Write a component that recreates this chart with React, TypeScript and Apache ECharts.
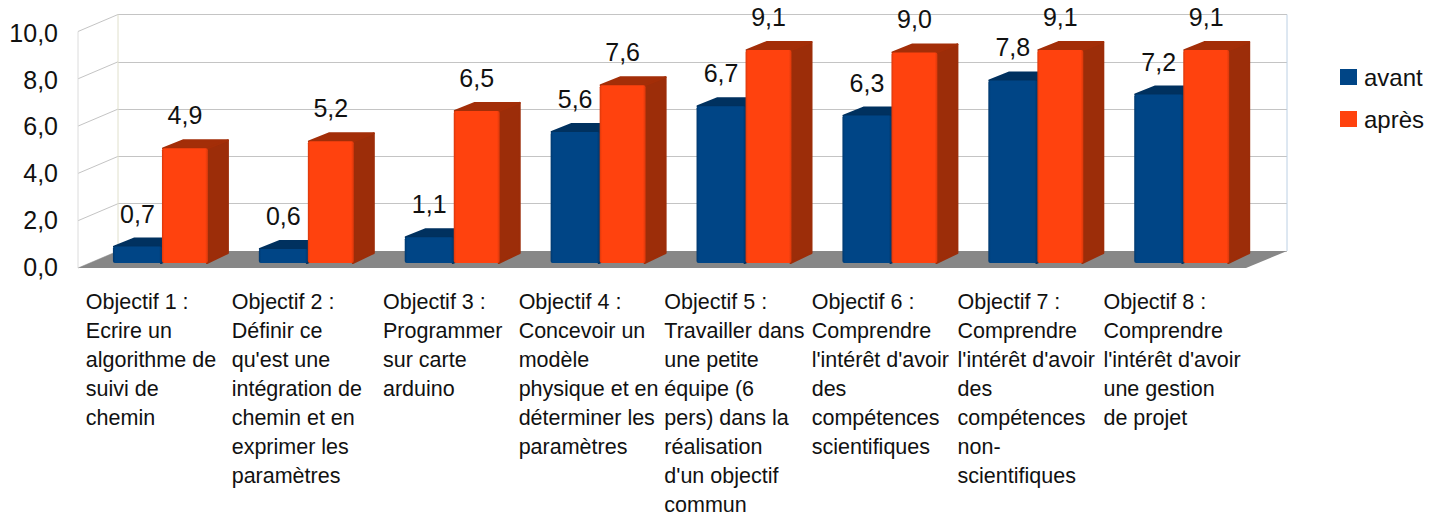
import React, { useEffect, useRef } from "react";
import * as echarts from "echarts";

const categories = [
  "Objectif 1 :\nEcrire un\nalgorithme de\nsuivi de\nchemin",
  "Objectif 2 :\nDéfinir ce\nqu'est une\nintégration de\nchemin et en\nexprimer les\nparamètres",
  "Objectif 3 :\nProgrammer\nsur carte\narduino",
  "Objectif 4 :\nConcevoir un\nmodèle\nphysique et en\ndéterminer les\nparamètres",
  "Objectif 5 :\nTravailler dans\nune petite\néquipe (6\npers) dans la\nréalisation\nd'un objectif\ncommun",
  "Objectif 6 :\nComprendre\nl'intérêt d'avoir\ndes\ncompétences\nscientifiques",
  "Objectif 7 :\nComprendre\nl'intérêt d'avoir\ndes\ncompétences\nnon-\nscientifiques",
  "Objectif 8 :\nComprendre\nl'intérêt d'avoir\nune gestion\nde projet",
];
const avant = [0.7, 0.6, 1.1, 5.6, 6.7, 6.3, 7.8, 7.2];
const apres = [4.9, 5.2, 6.5, 7.6, 9.1, 9.0, 9.1, 9.1];
const yTicks = [0, 2, 4, 6, 8, 10];

const FONT = '"Liberation Sans", Arial, sans-serif';
const DEPTH_X = 21;
const DEPTH_Y = 9;
const fmt = (v: number) => v.toFixed(1).replace(".", ",");

function hGrad(edge: string, mid: string) {
  return new echarts.graphic.LinearGradient(0, 0, 1, 0, [
    { offset: 0, color: edge },
    { offset: 0.05, color: mid },
    { offset: 0.94, color: mid },
    { offset: 1, color: edge },
  ]);
}

function barSeries(
  name: string,
  values: number[],
  from: number,
  to: number,
  colors: { front: string; edge: string; top: string; side: string },
) {
  return {
    name,
    type: "custom",
    xAxisIndex: 2,
    yAxisIndex: 2,
    encode: { x: 0, y: 1 },
    itemStyle: { color: colors.front },
    data: values.map((v, i) => [i, v]),
    clip: false,
    z: 3,
    renderItem: (_p: any, api: any) => {
      const top = api.coord([api.value(0), api.value(1)]);
      const base = api.coord([api.value(0), 0]);
      const band = api.size([1, 0])[0];
      const x0 = top[0] + band * from;
      const x1 = top[0] + band * to;
      const yT = top[1];
      const yB = base[1];
      return {
        type: "group",
        children: [
          {
            type: "polygon",
            shape: {
              points: [
                [x1 - 1, yT],
                [x1 + DEPTH_X - 1, yT - DEPTH_Y + 1],
                [x1 + DEPTH_X - 1, yB - DEPTH_Y - 1],
                [x1 - 1, yB],
              ],
            },
            style: { fill: colors.side, stroke: colors.side, lineWidth: 2, lineJoin: "round" },
          },
          {
            type: "polygon",
            shape: {
              points: [
                [x0 + 1, yT],
                [x0 + DEPTH_X, yT - DEPTH_Y + 1],
                [x1 + DEPTH_X - 1, yT - DEPTH_Y + 1],
                [x1, yT],
              ],
            },
            style: { fill: colors.top, stroke: colors.top, lineWidth: 2, lineJoin: "round" },
          },
          {
            type: "rect",
            shape: { x: x0, y: yT, width: x1 - x0, height: yB - yT, r: 2 },
            style: { fill: hGrad(colors.edge, colors.front) },
          },
          {
            type: "text",
            style: {
              text: fmt(api.value(1)),
              x: (x0 + x1) / 2,
              y: yT - 33,
              align: "center",
              verticalAlign: "middle",
              fontSize: 25,
              fontFamily: FONT,
              fill: "#111111",
            },
            z2: 10,
          },
        ],
      };
    },
  };
}

const wallSeries = {
  name: "murs",
  type: "custom",
  xAxisIndex: 0,
  yAxisIndex: 0,
  data: [[0, 0]],
  silent: true,
  clip: false,
  z: 1,
  renderItem: (params: any, api: any) => {
    const cs = params.coordSys;
    const xL = cs.x;
    const xR = cs.x + cs.width;
    const yOf = (v: number) => api.coord([0, v])[1];
    const dx = -40;
    const dy = 17;
    const grey = "#c4c4c4";
    const line = (x1: number, y1: number, x2: number, y2: number, stroke: string) => ({
      type: "line",
      shape: { x1, y1, x2, y2 },
      style: { stroke, lineWidth: 1 },
    });
    return {
      type: "group",
      children: [
        ...yTicks.map((t) => line(xL, yOf(t), xL + dx, yOf(t) + dy, grey)),
        line(xL + dx, yOf(10) + dy, xL + dx, yOf(0) + dy, "#dcdcdc"),
        line(xL, yOf(10), xL, yOf(0), "#e0e0cc"),
        line(xR, yOf(10), xR, yOf(0), "#bcd0e4"),
        {
          type: "polygon",
          shape: {
            points: [
              [xL, yOf(0)],
              [xR, yOf(0)],
              [xR + dx - 1, yOf(0) + dy],
              [xL + dx, yOf(0) + dy],
            ],
          },
          style: { fill: "#878787" },
        },
      ],
    };
  },
};

const hiddenX = { type: "category", data: categories, show: false };
const hiddenY = { type: "value", min: 0, max: 10, interval: 2, show: false };

const option = {
  animation: false,
  backgroundColor: "#ffffff",
  grid: [
    { left: 118, top: 14.5, width: 1169, height: 236.5 },
    { left: 78, top: 33, width: 1167, height: 237 },
    { left: 89, top: 29, width: 1167.2, height: 234 },
  ],
  xAxis: [
    { ...hiddenX, gridIndex: 0 },
    {
      type: "category",
      gridIndex: 1,
      data: categories,
      axisLine: { show: false },
      axisTick: { show: false },
      splitLine: { show: false },
      axisLabel: {
        interval: 0,
        hideOverlap: false,
        margin: 21,
        align: "center",
        verticalAlign: "top",
        formatter: (v: string) =>
          v
            .split("\n")
            .map((l) => `{a|${l}}`)
            .join("\n"),
        rich: {
          a: {
            align: "left",
            fontSize: 21.5,
            lineHeight: 29,
            fontFamily: FONT,
            color: "#111111",
          },
        },
      },
    },
    { ...hiddenX, gridIndex: 2 },
  ],
  yAxis: [
    {
      type: "value",
      gridIndex: 0,
      min: 0,
      max: 10,
      interval: 2,
      axisLine: { show: false },
      axisTick: { show: false },
      axisLabel: { show: false },
      splitLine: { show: true, lineStyle: { color: "#c4c4c4", width: 1 } },
    },
    {
      type: "value",
      gridIndex: 1,
      min: 0,
      max: 10,
      interval: 2,
      axisLine: { show: false },
      axisTick: { show: false },
      splitLine: { show: false },
      axisLabel: {
        margin: 20,
        fontSize: 25,
        fontFamily: FONT,
        color: "#111111",
        formatter: (v: number) => fmt(v),
      },
    },
    { ...hiddenY, gridIndex: 2 },
  ],
  legend: {
    data: ["avant", "après"],
    orient: "vertical",
    left: 1340,
    top: 65,
    padding: 0,
    icon: "rect",
    itemWidth: 17,
    itemHeight: 16,
    itemGap: 18,
    selectedMode: false,
    textStyle: { fontSize: 24, fontFamily: FONT, color: "#111111", padding: [0, 0, 0, 2] },
  },
  series: [
    wallSeries,
    barSeries("avant", avant, -0.336, 0, {
      front: "#004586",
      edge: "#00386e",
      top: "#00315f",
      side: "#00315f",
    }),
    barSeries("après", apres, 0, 0.315, {
      front: "#ff420e",
      edge: "#d9380b",
      top: "#a32e08",
      side: "#9c2d09",
    }),
  ],
};

export default function App() {
  const ref = useRef<HTMLDivElement>(null);
  useEffect(() => {
    const chart = echarts.init(ref.current as HTMLDivElement, undefined, { renderer: "svg" });
    chart.setOption(option as any);
    return () => chart.dispose();
  }, []);
  return (
    <div
      ref={ref}
      style={{ position: "absolute", left: 0, top: 0, width: 1442, height: 516 }}
    />
  );
}
